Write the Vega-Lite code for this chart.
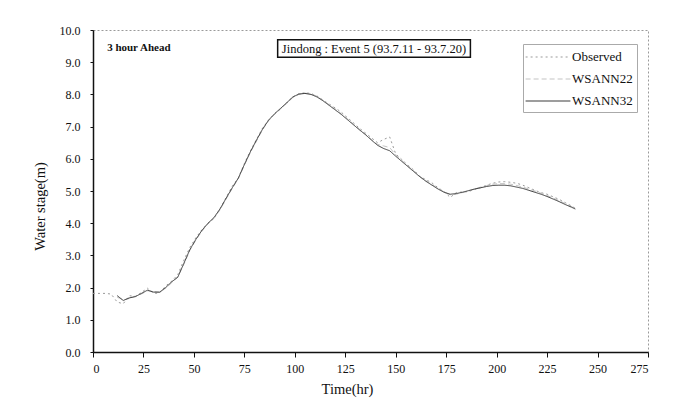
{
  "$schema": "https://vega.github.io/schema/vega-lite/v6.json",
  "autosize": {"type": "none"},
  "width": 555,
  "height": 322,
  "padding": {"left": 93, "top": 30, "right": 38, "bottom": 56},
  "background": "white",
  "config": {
    "font": "Liberation Serif",
    "view": {"stroke": "#9a9a9a", "strokeDash": [2, 2], "strokeWidth": 1},
    "axis": {"labelFont": "Liberation Serif", "titleFont": "Liberation Serif", "labelFontSize": 12, "titleFontSize": 14.5, "titleFontWeight": "normal", "labelColor": "#111", "titleColor": "#111", "domainColor": "#111", "domainWidth": 1.5, "tickColor": "#111", "grid": false, "labelOverlap": false}
  },
  "datasets": {
    "series": [
      {"t":0,"v":1.82,"s":"Observed"},{"t":3,"v":1.82,"s":"Observed"},{"t":6,"v":1.82,"s":"Observed"},{"t":9,"v":1.8,"s":"Observed"},{"t":12,"v":1.55,"s":"Observed"},{"t":15,"v":1.5,"s":"Observed"},{"t":18,"v":1.75,"s":"Observed"},{"t":21,"v":1.72,"s":"Observed"},{"t":24,"v":1.85,"s":"Observed"},{"t":27,"v":1.98,"s":"Observed"},{"t":30,"v":1.82,"s":"Observed"},{"t":33,"v":1.83,"s":"Observed"},{"t":36,"v":2.05,"s":"Observed"},{"t":39,"v":2.2,"s":"Observed"},{"t":42,"v":2.4,"s":"Observed"},{"t":45,"v":2.85,"s":"Observed"},{"t":48,"v":3.25,"s":"Observed"},{"t":51,"v":3.55,"s":"Observed"},{"t":54,"v":3.8,"s":"Observed"},{"t":57,"v":4.0,"s":"Observed"},{"t":60,"v":4.15,"s":"Observed"},{"t":63,"v":4.45,"s":"Observed"},{"t":66,"v":4.8,"s":"Observed"},{"t":69,"v":5.15,"s":"Observed"},{"t":72,"v":5.4,"s":"Observed"},{"t":75,"v":5.85,"s":"Observed"},{"t":78,"v":6.25,"s":"Observed"},{"t":81,"v":6.6,"s":"Observed"},{"t":84,"v":6.95,"s":"Observed"},{"t":87,"v":7.2,"s":"Observed"},{"t":90,"v":7.4,"s":"Observed"},{"t":93,"v":7.55,"s":"Observed"},{"t":96,"v":7.75,"s":"Observed"},{"t":99,"v":7.92,"s":"Observed"},{"t":102,"v":8.02,"s":"Observed"},{"t":105,"v":8.05,"s":"Observed"},{"t":108,"v":8.03,"s":"Observed"},{"t":111,"v":7.95,"s":"Observed"},{"t":114,"v":7.82,"s":"Observed"},{"t":117,"v":7.7,"s":"Observed"},{"t":120,"v":7.58,"s":"Observed"},{"t":123,"v":7.45,"s":"Observed"},{"t":126,"v":7.28,"s":"Observed"},{"t":129,"v":7.12,"s":"Observed"},{"t":132,"v":6.95,"s":"Observed"},{"t":135,"v":6.8,"s":"Observed"},{"t":138,"v":6.65,"s":"Observed"},{"t":141,"v":6.5,"s":"Observed"},{"t":144,"v":6.6,"s":"Observed"},{"t":147,"v":6.68,"s":"Observed"},{"t":150,"v":6.15,"s":"Observed"},{"t":153,"v":5.98,"s":"Observed"},{"t":156,"v":5.8,"s":"Observed"},{"t":159,"v":5.65,"s":"Observed"},{"t":162,"v":5.45,"s":"Observed"},{"t":165,"v":5.35,"s":"Observed"},{"t":168,"v":5.25,"s":"Observed"},{"t":171,"v":5.1,"s":"Observed"},{"t":174,"v":4.98,"s":"Observed"},{"t":177,"v":4.8,"s":"Observed"},{"t":180,"v":4.95,"s":"Observed"},{"t":183,"v":4.97,"s":"Observed"},{"t":186,"v":4.98,"s":"Observed"},{"t":189,"v":5.05,"s":"Observed"},{"t":192,"v":5.1,"s":"Observed"},{"t":195,"v":5.18,"s":"Observed"},{"t":198,"v":5.24,"s":"Observed"},{"t":201,"v":5.28,"s":"Observed"},{"t":204,"v":5.29,"s":"Observed"},{"t":207,"v":5.27,"s":"Observed"},{"t":210,"v":5.24,"s":"Observed"},{"t":213,"v":5.18,"s":"Observed"},{"t":216,"v":5.1,"s":"Observed"},{"t":219,"v":5.02,"s":"Observed"},{"t":222,"v":4.95,"s":"Observed"},{"t":225,"v":4.9,"s":"Observed"},{"t":228,"v":4.82,"s":"Observed"},{"t":231,"v":4.74,"s":"Observed"},{"t":234,"v":4.64,"s":"Observed"},{"t":237,"v":4.54,"s":"Observed"},{"t":239,"v":4.46,"s":"Observed"},
      {"t":12,"v":1.7,"s":"WSANN22"},{"t":15,"v":1.62,"s":"WSANN22"},{"t":18,"v":1.66,"s":"WSANN22"},{"t":21,"v":1.74,"s":"WSANN22"},{"t":24,"v":1.8,"s":"WSANN22"},{"t":27,"v":1.9,"s":"WSANN22"},{"t":30,"v":1.88,"s":"WSANN22"},{"t":33,"v":1.85,"s":"WSANN22"},{"t":36,"v":1.98,"s":"WSANN22"},{"t":39,"v":2.15,"s":"WSANN22"},{"t":42,"v":2.35,"s":"WSANN22"},{"t":45,"v":2.72,"s":"WSANN22"},{"t":48,"v":3.15,"s":"WSANN22"},{"t":51,"v":3.48,"s":"WSANN22"},{"t":54,"v":3.75,"s":"WSANN22"},{"t":57,"v":3.98,"s":"WSANN22"},{"t":60,"v":4.15,"s":"WSANN22"},{"t":63,"v":4.42,"s":"WSANN22"},{"t":66,"v":4.75,"s":"WSANN22"},{"t":69,"v":5.08,"s":"WSANN22"},{"t":72,"v":5.38,"s":"WSANN22"},{"t":75,"v":5.8,"s":"WSANN22"},{"t":78,"v":6.2,"s":"WSANN22"},{"t":81,"v":6.55,"s":"WSANN22"},{"t":84,"v":6.9,"s":"WSANN22"},{"t":87,"v":7.18,"s":"WSANN22"},{"t":90,"v":7.38,"s":"WSANN22"},{"t":93,"v":7.55,"s":"WSANN22"},{"t":96,"v":7.72,"s":"WSANN22"},{"t":99,"v":7.9,"s":"WSANN22"},{"t":102,"v":8.0,"s":"WSANN22"},{"t":105,"v":8.04,"s":"WSANN22"},{"t":108,"v":8.02,"s":"WSANN22"},{"t":111,"v":7.94,"s":"WSANN22"},{"t":114,"v":7.82,"s":"WSANN22"},{"t":117,"v":7.68,"s":"WSANN22"},{"t":120,"v":7.55,"s":"WSANN22"},{"t":123,"v":7.4,"s":"WSANN22"},{"t":126,"v":7.25,"s":"WSANN22"},{"t":129,"v":7.08,"s":"WSANN22"},{"t":132,"v":6.92,"s":"WSANN22"},{"t":135,"v":6.76,"s":"WSANN22"},{"t":138,"v":6.6,"s":"WSANN22"},{"t":141,"v":6.45,"s":"WSANN22"},{"t":144,"v":6.4,"s":"WSANN22"},{"t":147,"v":6.35,"s":"WSANN22"},{"t":150,"v":6.12,"s":"WSANN22"},{"t":153,"v":5.95,"s":"WSANN22"},{"t":156,"v":5.78,"s":"WSANN22"},{"t":159,"v":5.62,"s":"WSANN22"},{"t":162,"v":5.45,"s":"WSANN22"},{"t":165,"v":5.32,"s":"WSANN22"},{"t":168,"v":5.2,"s":"WSANN22"},{"t":171,"v":5.08,"s":"WSANN22"},{"t":174,"v":4.97,"s":"WSANN22"},{"t":177,"v":4.88,"s":"WSANN22"},{"t":180,"v":4.9,"s":"WSANN22"},{"t":183,"v":4.95,"s":"WSANN22"},{"t":186,"v":5.0,"s":"WSANN22"},{"t":189,"v":5.06,"s":"WSANN22"},{"t":192,"v":5.12,"s":"WSANN22"},{"t":195,"v":5.17,"s":"WSANN22"},{"t":198,"v":5.21,"s":"WSANN22"},{"t":201,"v":5.23,"s":"WSANN22"},{"t":204,"v":5.23,"s":"WSANN22"},{"t":207,"v":5.21,"s":"WSANN22"},{"t":210,"v":5.17,"s":"WSANN22"},{"t":213,"v":5.12,"s":"WSANN22"},{"t":216,"v":5.06,"s":"WSANN22"},{"t":219,"v":5.0,"s":"WSANN22"},{"t":222,"v":4.93,"s":"WSANN22"},{"t":225,"v":4.86,"s":"WSANN22"},{"t":228,"v":4.78,"s":"WSANN22"},{"t":231,"v":4.7,"s":"WSANN22"},{"t":234,"v":4.61,"s":"WSANN22"},{"t":237,"v":4.52,"s":"WSANN22"},{"t":239,"v":4.46,"s":"WSANN22"},
      {"t":12,"v":1.75,"s":"WSANN32"},{"t":15,"v":1.6,"s":"WSANN32"},{"t":18,"v":1.68,"s":"WSANN32"},{"t":21,"v":1.72,"s":"WSANN32"},{"t":24,"v":1.82,"s":"WSANN32"},{"t":27,"v":1.92,"s":"WSANN32"},{"t":30,"v":1.86,"s":"WSANN32"},{"t":33,"v":1.86,"s":"WSANN32"},{"t":36,"v":2.0,"s":"WSANN32"},{"t":39,"v":2.18,"s":"WSANN32"},{"t":42,"v":2.32,"s":"WSANN32"},{"t":45,"v":2.75,"s":"WSANN32"},{"t":48,"v":3.18,"s":"WSANN32"},{"t":51,"v":3.5,"s":"WSANN32"},{"t":54,"v":3.78,"s":"WSANN32"},{"t":57,"v":4.0,"s":"WSANN32"},{"t":60,"v":4.18,"s":"WSANN32"},{"t":63,"v":4.45,"s":"WSANN32"},{"t":66,"v":4.78,"s":"WSANN32"},{"t":69,"v":5.1,"s":"WSANN32"},{"t":72,"v":5.4,"s":"WSANN32"},{"t":75,"v":5.82,"s":"WSANN32"},{"t":78,"v":6.22,"s":"WSANN32"},{"t":81,"v":6.58,"s":"WSANN32"},{"t":84,"v":6.92,"s":"WSANN32"},{"t":87,"v":7.2,"s":"WSANN32"},{"t":90,"v":7.4,"s":"WSANN32"},{"t":93,"v":7.57,"s":"WSANN32"},{"t":96,"v":7.74,"s":"WSANN32"},{"t":99,"v":7.92,"s":"WSANN32"},{"t":102,"v":8.01,"s":"WSANN32"},{"t":105,"v":8.03,"s":"WSANN32"},{"t":108,"v":8.0,"s":"WSANN32"},{"t":111,"v":7.92,"s":"WSANN32"},{"t":114,"v":7.8,"s":"WSANN32"},{"t":117,"v":7.66,"s":"WSANN32"},{"t":120,"v":7.52,"s":"WSANN32"},{"t":123,"v":7.38,"s":"WSANN32"},{"t":126,"v":7.22,"s":"WSANN32"},{"t":129,"v":7.06,"s":"WSANN32"},{"t":132,"v":6.9,"s":"WSANN32"},{"t":135,"v":6.75,"s":"WSANN32"},{"t":138,"v":6.58,"s":"WSANN32"},{"t":141,"v":6.42,"s":"WSANN32"},{"t":144,"v":6.32,"s":"WSANN32"},{"t":147,"v":6.25,"s":"WSANN32"},{"t":150,"v":6.08,"s":"WSANN32"},{"t":153,"v":5.92,"s":"WSANN32"},{"t":156,"v":5.76,"s":"WSANN32"},{"t":159,"v":5.6,"s":"WSANN32"},{"t":162,"v":5.44,"s":"WSANN32"},{"t":165,"v":5.3,"s":"WSANN32"},{"t":168,"v":5.18,"s":"WSANN32"},{"t":171,"v":5.06,"s":"WSANN32"},{"t":174,"v":4.96,"s":"WSANN32"},{"t":177,"v":4.9,"s":"WSANN32"},{"t":180,"v":4.92,"s":"WSANN32"},{"t":183,"v":4.96,"s":"WSANN32"},{"t":186,"v":5.01,"s":"WSANN32"},{"t":189,"v":5.06,"s":"WSANN32"},{"t":192,"v":5.1,"s":"WSANN32"},{"t":195,"v":5.14,"s":"WSANN32"},{"t":198,"v":5.17,"s":"WSANN32"},{"t":201,"v":5.18,"s":"WSANN32"},{"t":204,"v":5.18,"s":"WSANN32"},{"t":207,"v":5.16,"s":"WSANN32"},{"t":210,"v":5.12,"s":"WSANN32"},{"t":213,"v":5.08,"s":"WSANN32"},{"t":216,"v":5.02,"s":"WSANN32"},{"t":219,"v":4.96,"s":"WSANN32"},{"t":222,"v":4.9,"s":"WSANN32"},{"t":225,"v":4.83,"s":"WSANN32"},{"t":228,"v":4.75,"s":"WSANN32"},{"t":231,"v":4.67,"s":"WSANN32"},{"t":234,"v":4.58,"s":"WSANN32"},{"t":237,"v":4.5,"s":"WSANN32"},{"t":239,"v":4.44,"s":"WSANN32"}
    ],
    "notes": [
      {"t": 7, "v": 9.45, "label": "3 hour Ahead"}
    ],
    "box": [
      {"t": 91.5, "t2": 187, "v": 9.15, "v2": 9.7}
    ],
    "boxlabel": [
      {"t": 139.2, "v": 9.42, "label": "Jindong : Event 5 (93.7.11 - 93.7.20)"}
    ]
  },
  "encoding": {
    "x": {"field": "t", "type": "quantitative", "scale": {"domain": [0, 275], "nice": false}, "axis": {"title": "Time(hr)", "values": [0,25,50,75,100,125,150,175,200,225,250,275], "tickSize": 5, "labelPadding": 6, "titlePadding": 8, "titleX": 254, "labelOverlap": false}},
    "y": {"field": "v", "type": "quantitative", "scale": {"domain": [0, 10], "nice": false}, "axis": {"title": "Water stage(m)", "values": [0,1,2,3,4,5,6,7,8,9,10], "format": ".1f", "tickSize": 3, "labelPadding": 10, "titlePadding": 12, "titleY": 176, "labelOverlap": false, "labelBound": false, "labelFlush": false}}
  },
  "layer": [
    {
      "data": {"name": "series"},
      "mark": {"type": "line", "strokeWidth": 1, "interpolate": "linear"},
      "encoding": {
        "color": {"field": "s", "type": "nominal", "scale": {"domain": ["Observed", "WSANN22", "WSANN32"], "range": ["#9a9a9a", "#c4c4c4", "#3a3a3a"]}, "legend": {"title": null, "orient": "none", "legendX": 430, "legendY": 14, "symbolType": "M-2.8,0H2.8", "symbolSize": 256, "symbolOffset": 12, "symbolStrokeWidth": 1.2, "labelFont": "Liberation Serif", "labelFontSize": 13, "labelColor": "#111", "labelOffset": 15, "strokeColor": "#aaaaaa", "padding": 4, "rowPadding": 6, "fillColor": "white"}},
        "strokeDash": {"field": "s", "type": "nominal", "scale": {"domain": ["Observed", "WSANN22", "WSANN32"], "range": [[2, 3], [5, 3], [1, 0]]}, "legend": null}
      }
    },
    {
      "data": {"name": "notes"},
      "mark": {"type": "text", "align": "left", "baseline": "middle", "font": "Liberation Serif", "fontSize": 11, "fontWeight": "bold", "color": "#111"},
      "encoding": {
        "text": {"field": "label"}
      }
    },
    {
      "data": {"name": "box"},
      "mark": {"type": "rect", "fill": "white", "stroke": "#111", "strokeWidth": 1.5},
      "encoding": {
        "x2": {"field": "t2"},
        "y2": {"field": "v2"}
      }
    },
    {
      "data": {"name": "boxlabel"},
      "mark": {"type": "text", "align": "center", "baseline": "middle", "font": "Liberation Serif", "fontSize": 12.5, "color": "#111"},
      "encoding": {
        "text": {"field": "label"}
      }
    }
  ]
}
